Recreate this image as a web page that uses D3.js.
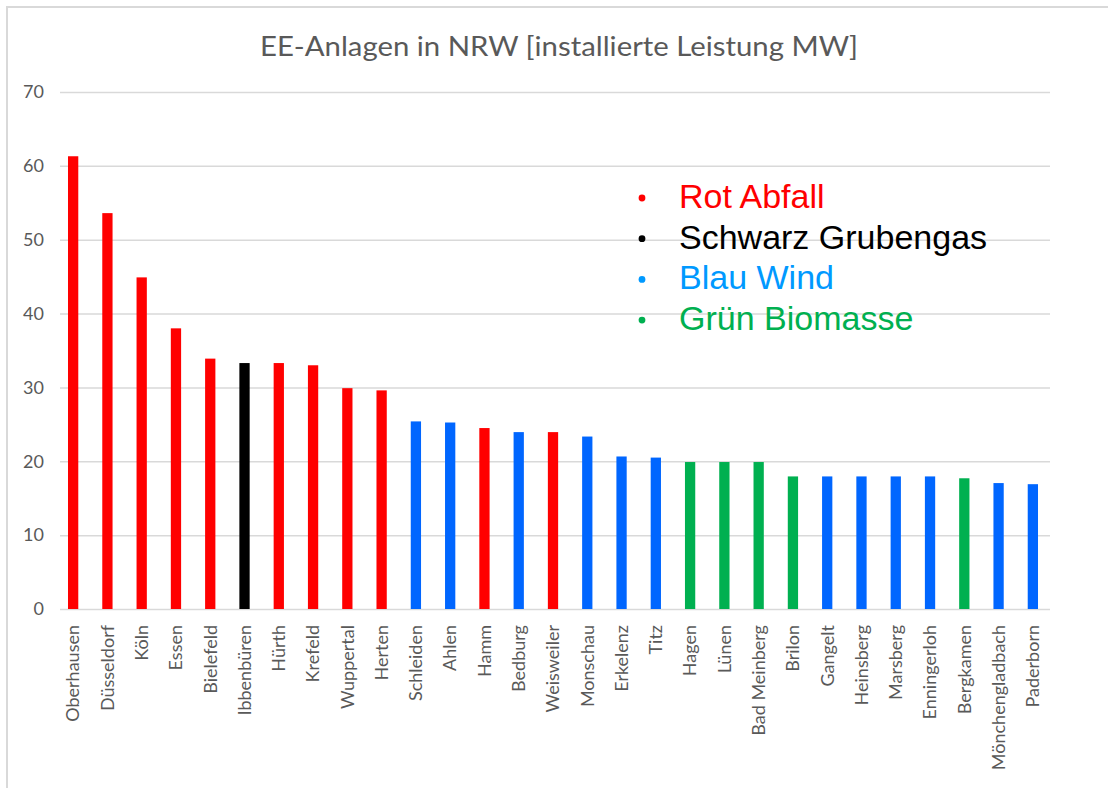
<!DOCTYPE html>
<html>
<head>
<meta charset="utf-8">
<script src="https://cdn.jsdelivr.net/npm/d3@7"></script>
<style>
  body { margin: 0; background: #fff; }
  svg { display: block; }
</style>
</head>
<body>
<div id="chart"></div>
<script>
// Data
const cities = ["Oberhausen", "Düsseldorf", "Köln", "Essen", "Bielefeld", "Ibbenbüren", "Hürth", "Krefeld",
    "Wuppertal", "Herten", "Schleiden", "Ahlen", "Hamm", "Bedburg", "Weisweiler", "Monschau", "Erkelenz",
    "Titz", "Hagen", "Lünen", "Bad Meinberg", "Brilon", "Gangelt", "Heinsberg", "Marsberg", "Enningerloh",
    "Bergkamen", "Mönchengladbach", "Paderborn"];
const power = [61.3, 53.6, 44.9, 38.0, 33.9, 33.3, 33.3, 33.0, 29.9, 29.6, 25.4, 25.25, 24.5, 23.95, 23.95,
    23.35, 20.65, 20.5, 19.9, 19.9, 19.9, 17.95, 17.95, 17.95, 17.95, 17.95, 17.7, 17.05, 16.9];
// energy type per city
const types = ["Abfall", "Abfall", "Abfall", "Abfall", "Abfall", "Grubengas", "Abfall", "Abfall",
    "Abfall", "Abfall", "Wind", "Wind", "Abfall", "Wind", "Abfall", "Wind", "Wind",
    "Wind", "Biomasse", "Biomasse", "Biomasse", "Biomasse", "Wind", "Wind", "Wind", "Wind",
    "Biomasse", "Wind", "Wind"];
const yTicks = [0, 10, 20, 30, 40, 50, 60, 70];
const legendLabels = ["Rot Abfall", "Schwarz Grubengas", "Blau Wind", "Grün Biomasse"];

const data = cities.map((c, i) => ({ city: c, value: power[i], type: types[i] }));

const W = 1108, H = 788;
const svg = d3.select("#chart").append("svg")
    .attr("width", W)
    .attr("height", H);

// light frame (top + left only, like the screenshot)
svg.append("line").attr("x1", 6).attr("x2", W).attr("y1", 7).attr("y2", 7)
    .attr("stroke", "#d9d9d9").attr("stroke-width", 2);
svg.append("line").attr("x1", 7).attr("x2", 7).attr("y1", 6).attr("y2", H)
    .attr("stroke", "#d9d9d9").attr("stroke-width", 2);

const plot = { left: 60, right: 1050, top: 92, bottom: 609 };

const barColor = d3.scaleOrdinal()
    .domain(["Abfall", "Grubengas", "Wind", "Biomasse"])
    .range(["#ff0000", "#000000", "#0066ff", "#00b050"]);

const xScale = d3.scaleBand()
    .domain(cities)
    .range([56, plot.right])
    .paddingInner(0.7)
    .paddingOuter(0.35);

const yScale = d3.scaleLinear()
    .domain([0, 70])
    .range([plot.bottom, plot.top]);

// title
svg.append("text")
    .attr("x", 559)
    .attr("y", 56)
    .attr("text-anchor", "middle")
    .attr("font-family", "Lato, sans-serif")
    .attr("font-size", 27)
    .attr("textLength", 598)
    .attr("lengthAdjust", "spacingAndGlyphs")
    .attr("fill", "#595959")
    .text("EE-Anlagen in NRW [installierte Leistung MW]");

// gridlines + y labels
const yAxis = svg.append("g")
    .attr("transform", "translate(" + plot.left + ",0)")
    .call(d3.axisLeft(yScale).tickValues(yTicks).tickSize(-(plot.right - plot.left)).tickPadding(16));
yAxis.select(".domain").remove();
yAxis.selectAll(".tick line").attr("stroke", "#d9d9d9").attr("stroke-width", 1.5);
yAxis.selectAll(".tick text")
    .attr("font-family", "Lato, sans-serif")
    .attr("font-size", 18)
    .attr("fill", "#595959");

// bars
svg.append("g").selectAll("rect")
    .data(data)
    .join("rect")
    .attr("x", d => xScale(d.city))
    .attr("y", d => yScale(d.value))
    .attr("width", xScale.bandwidth())
    .attr("height", d => yScale(0) - yScale(d.value))
    .attr("fill", d => barColor(d.type));

// x labels (rotated)
const xAxis = svg.append("g")
    .attr("transform", "translate(0," + plot.bottom + ")")
    .call(d3.axisBottom(xScale).tickSize(0).tickPadding(0));
xAxis.select(".domain").remove();
xAxis.selectAll(".tick text")
    .attr("transform", "rotate(-90)")
    .attr("x", -16)
    .attr("y", 0)
    .attr("dy", "0.35em")
    .attr("text-anchor", "end")
    .attr("font-family", "Lato, sans-serif")
    .attr("font-size", 18)
    .attr("fill", "#595959");

// legend written as text list
const legendColors = ["#ff0000", "#000000", "#0099ff", "#00b050"];
const legend = svg.append("g").attr("transform", "translate(642,208)");
legendLabels.forEach((lab, i) => {
    const row = legend.append("g").attr("transform", "translate(0," + (i * 40.7) + ")");
    row.append("circle").attr("cx", 0).attr("cy", -10).attr("r", 3.4).attr("fill", legendColors[i]);
    row.append("text")
        .attr("x", 37)
        .attr("y", 0)
        .attr("font-family", "Liberation Sans, Arial, sans-serif")
        .attr("font-size", 34)
        .attr("fill", legendColors[i])
        .text(lab);
});
</script>
</body>
</html>
